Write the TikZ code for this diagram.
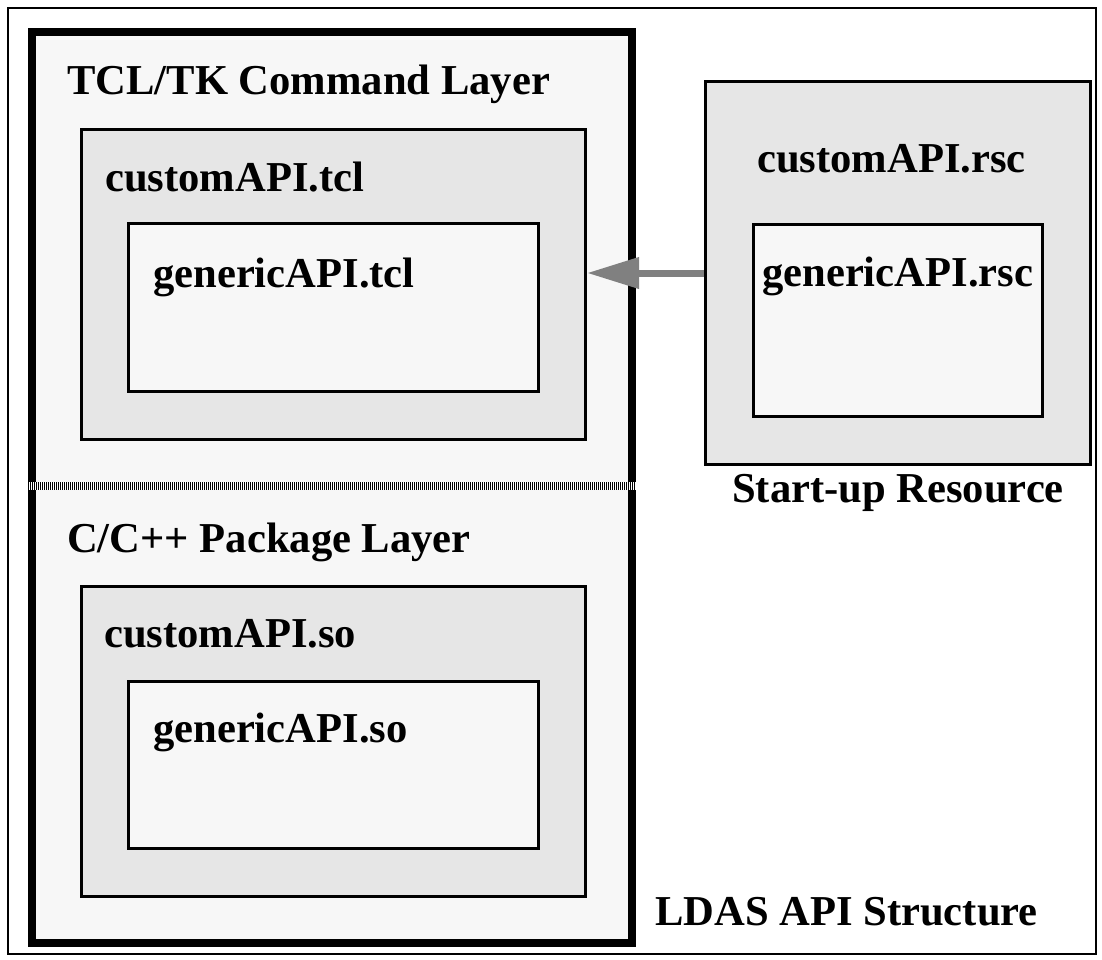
\documentclass[tikz,border=0pt]{standalone}
\usepackage{fontspec}
\setmainfont{Liberation Serif}
\usetikzlibrary{arrows.meta, positioning}
\definecolor{paleGray}{HTML}{F7F7F7}
\definecolor{boxGray}{HTML}{E6E6E6}
\definecolor{arrowGray}{HTML}{808080}

\begin{document}
\begin{tikzpicture}[x=1pt,y=-1pt,
    box/.style={draw, line width=3pt, fill=boxGray, inner sep=0pt, anchor=north west},
    innerbox/.style={box, fill=paleGray},
    lbl/.style={anchor=base west, inner sep=0pt, font=\bfseries\fontsize{42.6}{50}\selectfont},
    flow/.style={line width=7pt, arrowGray, -{Triangle[length=52pt, width=30pt]}}]
    \useasboundingbox (0,0) rectangle (1102,960);
    % outer frame
    \draw[line width=2pt] (8,8) rectangle (1096,954);
    % API layers
    \draw[line width=8pt, fill=paleGray] (32,32) rectangle (632,943);
    \draw[line width=8pt, white] (28,486) -- (636,486);
    \draw[line width=8pt, dash pattern=on 1pt off 1pt] (28,486) -- (636,486);
    \node[lbl] (tclLabel) at (67,95) {TCL/TK Command Layer};
    \node[lbl] (pkgLabel) at (67,552) {C/C++ Package Layer};

    \node[box, minimum width=504pt, minimum height=310pt] (tclBox) at (80,128) {};
    \node[innerbox, minimum width=410pt, minimum height=168pt] (tclInner) at (127,222) {};
    \node[lbl] (tclName) at (105,191) {customAPI.tcl};
    \node[lbl] (tclInnerName) at (153,287) {genericAPI.tcl};

    \node[box, minimum width=504pt, minimum height=310pt] (soBox) at (80,585) {};
    \node[innerbox, minimum width=410pt, minimum height=167pt] (soInner) at (127,680) {};
    \node[lbl] (soName) at (104,647) {customAPI.so};
    \node[lbl] (soInnerName) at (153,742) {genericAPI.so};

    % start-up resource
    \node[box, minimum width=385pt, minimum height=383pt] (rscBox) at (704,80) {};
    \node[innerbox, minimum width=289pt, minimum height=192pt] (rscInner) at (752,223) {};
    \node[lbl] (rscName) at (757,172) {customAPI.rsc};
    \node[lbl] (rscInnerName) at (762,286) {genericAPI.rsc};
    \node[lbl] (rscLabel) at (732,502) {Start-up Resource};

    \draw[flow] (rscBox.west) -- (rscBox.west -| tclBox.east);

    \node[lbl] (title) at (655,925) {LDAS API Structure};
\end{tikzpicture}
\end{document}
